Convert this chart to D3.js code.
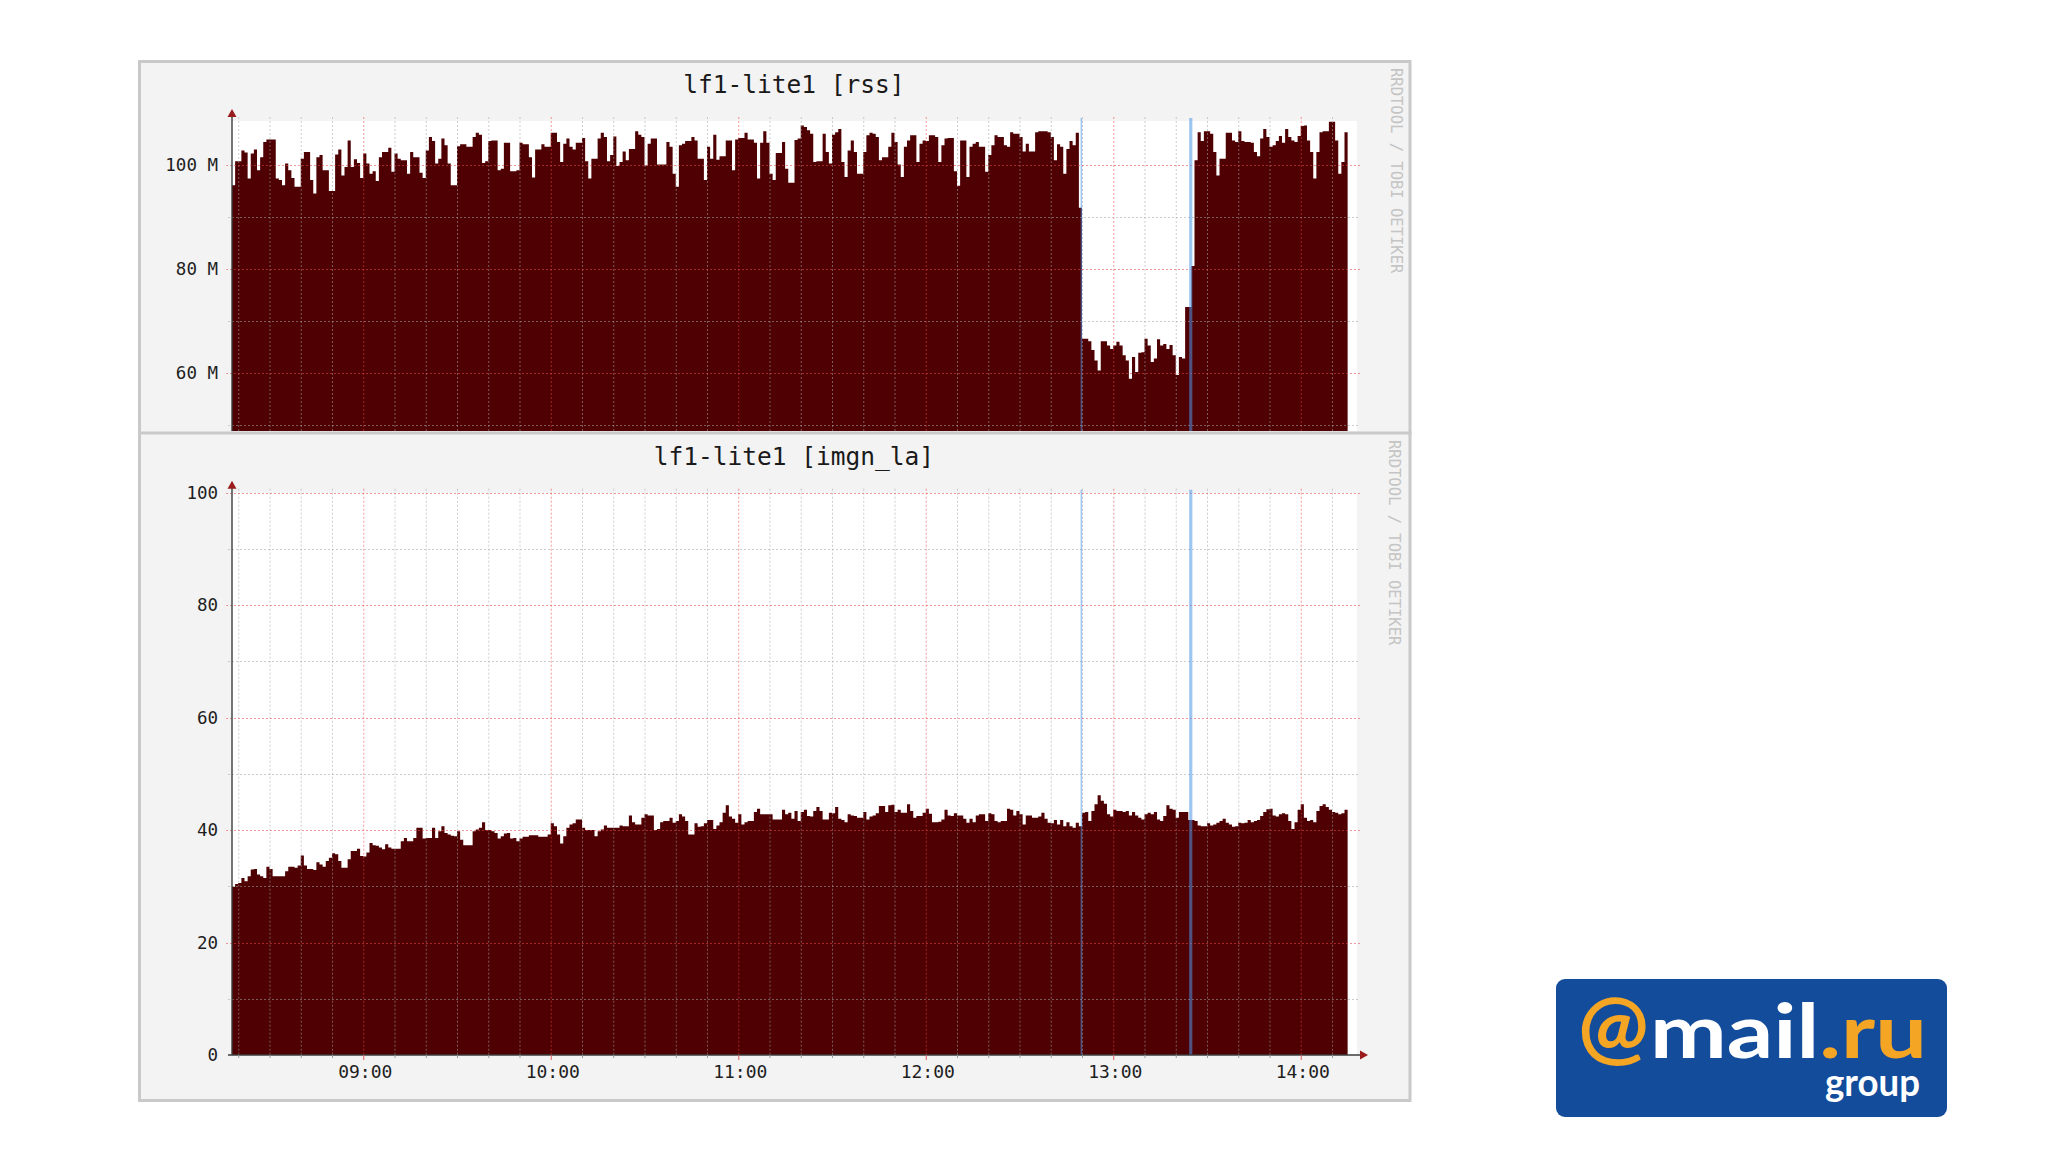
<!DOCTYPE html>
<html><head><meta charset="utf-8">
<script src="https://cdn.jsdelivr.net/npm/d3@7"></script>
<style>html,body{margin:0;padding:0;background:#fff;}svg{display:block;}</style>
</head><body>
<svg id="chart" width="2048" height="1152"></svg>
<script>
// ---------- data ----------
const startTime = "08:18:00";          // left edge of both graphs, 1-minute steps
const spanHours = 6;
const hourTicks = ["09:00","10:00","11:00","12:00","13:00","14:00"];
const vruleTimes = ["12:49:48","13:24:48"];
const titles = ["lf1-lite1 [rss]", "lf1-lite1 [imgn_la]"];
const watermark = "RRDTOOL / TOBI OETIKER";

// rss in M (per minute from 08:18)
const rssValues = [
96.1,100.7,100.7,102.8,102.4,97.4,102.2,103.0,99.0,101.5,
104.4,104.9,104.9,104.9,97.4,97.1,96.1,100.3,99.0,97.5,
95.8,95.8,101.2,102.5,102.5,97.1,94.5,101.5,101.9,99.0,
99.0,95.0,95.0,102.0,103.0,98.0,99.6,104.7,99.6,101.1,
100.4,97.5,102.2,100.3,98.3,98.8,96.9,101.5,102.5,102.5,
103.3,98.7,102.2,101.2,100.9,100.9,98.3,102.5,101.5,101.5,
98.5,97.5,102.8,105.4,104.6,100.3,101.2,105.1,103.8,100.3,
96.1,96.1,103.6,104.0,104.0,103.5,103.5,105.4,106.2,105.8,
100.4,100.7,104.6,104.7,104.7,99.0,99.3,104.3,104.3,98.8,
98.8,99.0,104.3,104.0,104.0,101.5,97.6,103.0,103.0,104.0,
103.5,103.5,106.2,106.2,104.4,100.6,104.1,105.1,103.5,103.0,
104.3,104.3,105.2,100.7,97.4,101.2,101.2,105.1,106.2,105.4,
100.7,101.9,105.5,99.8,100.6,102.6,100.9,103.1,103.1,106.5,
105.8,105.4,99.9,104.1,105.1,105.1,100.1,100.1,100.1,104.4,
103.5,98.3,95.8,103.8,104.1,104.6,104.6,105.4,104.7,101.2,
101.2,97.1,103.5,101.2,105.8,101.0,101.7,101.7,104.7,104.7,
99.0,104.9,105.2,105.2,106.2,104.9,104.9,104.3,97.4,104.3,
106.5,104.3,98.3,97.1,102.3,102.3,104.4,99.3,96.6,96.6,
104.8,105.1,107.6,107.3,106.7,106.0,100.6,100.7,100.7,106.0,
102.5,100.3,105.8,106.3,106.9,100.6,97.7,102.8,104.7,102.5,
98.3,98.3,102.5,105.7,106.2,106.0,105.4,100.9,101.5,101.5,
103.5,106.2,104.4,100.1,97.7,103.5,104.7,105.7,105.7,100.6,
104.1,104.7,104.6,105.7,105.7,105.4,100.6,103.8,105.1,105.2,
105.2,98.8,96.0,104.7,104.7,97.7,103.5,104.1,104.4,103.5,
103.5,98.7,101.9,103.8,105.7,105.4,105.4,103.8,103.5,106.3,
106.0,106.0,105.4,102.6,104.1,102.6,102.6,106.3,106.5,106.5,
106.5,106.3,105.4,100.9,104.0,103.5,98.3,103.1,104.6,103.8,
106.2,91.8,66.6,66.6,66.1,64.4,62.4,60.5,66.1,66.1,
65.3,64.6,65.3,66.0,65.3,63.4,62.4,58.9,63.1,60.2,
63.9,64.0,66.6,65.3,62.1,62.8,66.5,65.3,65.6,64.6,
65.4,63.4,59.6,63.1,62.8,72.7,72.7,80.6,100.9,106.3,
104.6,106.5,106.5,106.0,102.5,98.0,101.2,101.2,106.2,106.2,
104.7,104.4,106.5,104.6,104.4,104.4,104.3,102.5,101.7,105.1,
106.9,105.4,103.5,103.8,104.6,105.6,104.3,106.9,105.4,104.7,
104.4,105.6,107.5,107.6,104.7,102.5,97.4,102.5,106.3,106.5,
106.5,108.3,108.3,104.7,98.3,100.6,106.3
];

// imgn_la (per minute from 08:18)
const laValues = [
29.9,30.4,30.6,31.5,30.9,31.8,33.0,33.1,32.1,31.8,
31.5,33.5,33.1,31.8,31.8,31.8,31.8,32.7,33.5,33.5,
33.3,33.7,35.5,33.7,33.1,33.1,32.9,34.3,33.9,33.5,
34.5,35.1,35.9,35.7,34.5,33.3,33.3,34.8,36.3,36.3,
36.7,35.4,35.3,36.0,37.7,37.3,37.2,36.9,36.6,37.5,
36.9,36.7,36.7,36.7,38.0,38.6,38.0,38.0,38.6,40.4,
40.4,38.5,38.6,38.6,40.4,38.6,39.8,40.7,39.5,39.2,
39.0,38.9,39.8,38.3,37.3,37.3,37.3,39.8,40.1,40.4,
41.4,40.0,40.0,39.8,39.5,38.5,38.9,39.4,39.5,38.5,
38.6,38.0,38.5,38.8,38.8,39.1,39.1,39.1,38.8,38.8,
38.8,39.2,41.2,40.7,39.2,37.6,38.9,40.4,41.0,41.2,
41.9,41.9,40.4,40.0,40.0,40.0,38.9,39.8,40.1,40.8,
40.4,40.4,40.4,40.4,40.8,40.7,40.7,42.6,41.4,41.0,
41.0,42.2,42.8,42.6,42.6,40.0,40.2,41.4,41.6,41.6,
42.2,41.3,41.6,42.8,42.4,41.6,39.2,39.2,41.2,40.6,
40.7,41.2,41.8,41.8,40.2,40.8,41.4,43.1,44.4,42.4,
42.0,41.3,42.8,41.0,41.4,41.6,41.6,43.2,43.8,42.8,
42.8,42.8,42.8,41.9,41.9,41.9,43.6,42.8,43.1,42.0,
43.4,41.6,43.2,43.6,42.5,42.4,43.4,44.1,43.4,41.9,
41.9,43.1,43.0,44.1,42.0,41.8,41.4,42.8,42.6,42.5,
42.2,42.2,43.2,41.9,42.4,42.6,43.0,44.3,44.3,43.2,
44.4,44.5,43.2,43.6,43.1,43.1,44.6,43.4,42.2,42.5,
42.5,43.1,43.8,42.9,41.4,41.4,41.5,41.9,43.6,42.6,
42.5,43.0,42.6,42.6,42.0,41.3,42.0,41.4,42.6,42.8,
42.8,41.6,43.0,42.8,41.6,41.4,41.6,41.6,43.8,43.6,
42.6,43.4,42.8,41.0,42.6,42.6,42.2,42.2,42.4,43.1,
42.0,41.3,41.2,41.8,41.0,41.8,40.7,41.4,40.7,40.4,
41.3,40.7,43.1,43.2,41.6,43.4,44.6,46.2,45.2,44.7,
42.8,42.4,43.6,43.4,43.4,43.2,43.4,42.6,43.2,42.6,
42.2,41.9,42.8,43.1,42.8,43.2,41.9,41.6,42.5,44.4,
43.8,43.6,42.2,43.2,43.2,43.2,41.8,41.8,41.6,40.8,
40.7,40.7,41.2,40.8,41.0,41.3,41.6,42.0,41.3,41.0,
40.6,40.7,41.3,41.2,41.3,41.8,41.4,41.6,41.8,42.5,
43.2,43.7,43.8,42.6,42.4,42.8,43.0,42.8,41.6,40.2,
41.4,43.6,44.6,42.2,41.6,41.8,41.4,43.4,44.3,44.6,
44.1,43.6,43.2,43.1,42.8,43.0,43.6
];

const rssMajor = [60, 80, 100];
const rssMinor = [50, 70, 90];
const laMajor = [20, 40, 60, 80, 100];
const laMinor = [10, 30, 50, 70, 90];
const laLabels = [0, 20, 40, 60, 80, 100];

// ---------- drawing ----------
const svg = d3.select("#chart");
const MONO = "DejaVu Sans Mono, Liberation Mono, monospace";
const AREA = "#4e0002";
const parse = d3.timeParse("%Y-%m-%d %H:%M:%S");
const day = "2012-03-01 ";
const t0 = parse(day + startTime);
const t1 = d3.timeHour.offset(t0, spanHours);
const x = d3.scaleTime().domain([t0, t1]).range([232, 1357]);
const PL = 232, PR = 1357;

function series(vals) {
  const pts = vals.map((v, i) => ({t: d3.timeMinute.offset(t0, i), v}));
  pts.push({t: d3.timeMinute.offset(t0, vals.length), v: vals[vals.length - 1]});
  return pts;
}

function panel(cfg) {
  const g = svg.append("g");
  // frame
  g.append("rect").attr("x", cfg.fx).attr("y", cfg.fy).attr("width", cfg.fw).attr("height", cfg.fh)
    .attr("fill", "#f3f3f3").attr("stroke", "#c9c9c9").attr("stroke-width", 3);
  // canvas
  g.append("rect").attr("x", PL).attr("y", cfg.top).attr("width", PR - PL).attr("height", cfg.bottom - cfg.top)
    .attr("fill", "#ffffff");
  const clipId = "clip" + cfg.id;
  svg.append("defs").append("clipPath").attr("id", clipId).append("rect")
    .attr("x", PL).attr("y", cfg.top).attr("width", PR - PL).attr("height", cfg.bottom - cfg.top);

  const y = cfg.y;
  const area = d3.area().curve(d3.curveStepAfter)
    .x(d => x(d.t)).y0(cfg.bottom).y1(d => y(d.v));
  g.append("path").datum(series(cfg.values)).attr("d", area)
    .attr("fill", AREA).attr("clip-path", `url(#${clipId})`);

  // grid
  const minorT = x.ticks(d3.timeMinute.every(10)).filter(t => t.getMinutes() !== 0);
  const majorT = hourTicks.map(h => parse(day + h + ":00"));
  const grid = g.append("g").attr("fill", "none").attr("stroke-width", 1).attr("stroke-dasharray", "2,2");
  grid.selectAll(".vmin").data(minorT).join("line")
    .attr("x1", d => x(d) + 0.5).attr("x2", d => x(d) + 0.5)
    .attr("y1", cfg.top - 4).attr("y2", cfg.bottom)
    .attr("stroke", "rgba(165,165,165,0.55)");
  grid.selectAll(".vmaj").data(majorT).join("line")
    .attr("x1", d => x(d) + 0.5).attr("x2", d => x(d) + 0.5)
    .attr("y1", cfg.top - 4).attr("y2", cfg.bottom)
    .attr("stroke", "rgba(235,70,70,0.55)");
  grid.selectAll(".hmin").data(cfg.minor).join("line")
    .attr("x1", PL - 4).attr("x2", PR + 3)
    .attr("y1", d => Math.round(y(d)) + 0.5).attr("y2", d => Math.round(y(d)) + 0.5)
    .attr("stroke", "rgba(165,165,165,0.55)");
  grid.selectAll(".hmaj").data(cfg.major).join("line")
    .attr("x1", PL - 6).attr("x2", PR + 3)
    .attr("y1", d => Math.round(y(d)) + 0.5).attr("y2", d => Math.round(y(d)) + 0.5)
    .attr("stroke", "rgba(235,70,70,0.55)");

  // vrules
  const vr = vruleTimes.map(s => parse(day + s));
  g.selectAll(".vr").data(vr).join("line")
    .attr("x1", d => x(d)).attr("x2", d => x(d))
    .attr("y1", cfg.top - 3).attr("y2", cfg.bottom)
    .attr("stroke", "rgba(80,150,230,0.55)")
    .attr("stroke-width", (d, i) => i === 0 ? 1.5 : 3.2);

  // axes
  g.append("line").attr("x1", PL).attr("x2", PL).attr("y1", cfg.axisBottom).attr("y2", cfg.top - 10)
    .attr("stroke", "#3c3c3c").attr("stroke-width", 1.4);
  g.append("path").attr("d", `M${PL},${cfg.top - 12} L${PL - 4.5},${cfg.top - 4} L${PL + 4.5},${cfg.top - 4} Z`)
    .attr("fill", "#9a1c1c");
  if (cfg.xAxis) {
    g.append("line").attr("x1", PL - 4).attr("x2", PR + 6).attr("y1", cfg.bottom).attr("y2", cfg.bottom)
      .attr("stroke", "#3c3c3c").attr("stroke-width", 1.4);
    g.append("path").attr("d", `M${PR + 11},${cfg.bottom} L${PR + 3},${cfg.bottom - 4.5} L${PR + 3},${cfg.bottom + 4.5} Z`)
      .attr("fill", "#9a1c1c");
    g.selectAll(".tmin").data(minorT).join("line")
      .attr("x1", d => x(d) + 0.5).attr("x2", d => x(d) + 0.5)
      .attr("y1", cfg.bottom).attr("y2", cfg.bottom + 3)
      .attr("stroke", "#9a9a9a");
    g.selectAll(".tmaj").data(majorT).join("line")
      .attr("x1", d => x(d) + 0.5).attr("x2", d => x(d) + 0.5)
      .attr("y1", cfg.bottom).attr("y2", cfg.bottom + 5)
      .attr("stroke", "#e06060");
    g.selectAll(".xl").data(majorT).join("text")
      .attr("x", d => x(d) + 2).attr("y", cfg.bottom + 23)
      .attr("text-anchor", "middle").attr("font-family", MONO).attr("font-size", 18)
      .attr("fill", "#1e1e1e").text(d => d3.timeFormat("%H:%M")(d));
  }
  // y labels
  g.selectAll(".yl").data(cfg.labels).join("text")
    .attr("x", 218).attr("y", d => y(d)).attr("dy", "0.36em")
    .attr("text-anchor", "end").attr("font-family", MONO).attr("font-size", 17.5)
    .attr("fill", "#1e1e1e").text(cfg.fmt);
  // title
  g.append("text").attr("x", 794).attr("y", cfg.titleY).attr("text-anchor", "middle")
    .attr("font-family", MONO).attr("font-size", 24.5).attr("fill", "#1a1a1a").text(cfg.title);
  // watermark
  g.append("text").attr("transform", `translate(${cfg.wmX},${cfg.wmY}) rotate(90)`)
    .attr("font-family", MONO).attr("font-size", 15.5).attr("fill", "#c4c4c4").text(watermark);
}

// top panel (rss) — partially covered by the lower panel
panel({
  id: 1, fx: 139.5, fy: 61.5, fw: 1270.5, fh: 372,
  top: 121, bottom: 431, axisBottom: 431,
  y: d3.scaleLinear().domain([60, 100]).range([373, 165]),
  values: rssValues, major: rssMajor, minor: rssMinor, labels: rssMajor,
  fmt: d => d + " M", title: titles[0], titleY: 93, xAxis: false,
  wmX: 1391, wmY: 68
});

// bottom panel (imgn_la)
panel({
  id: 2, fx: 139.5, fy: 433, fw: 1270.5, fh: 667.5,
  top: 492.7, bottom: 1055, axisBottom: 1055,
  y: d3.scaleLinear().domain([0, 100]).range([1055, 492.7]),
  values: laValues, major: laMajor, minor: laMinor, labels: laLabels,
  fmt: d => String(d), title: titles[1], titleY: 464.5, xAxis: true,
  wmX: 1389, wmY: 440
});

// logo
const logo = svg.append("g");
logo.append("rect").attr("x", 1556).attr("y", 979).attr("width", 391).attr("height", 138)
  .attr("rx", 9).attr("fill", "#124c9a");
const LOGOFONT = "Lato, 'Open Sans', sans-serif";
logo.append("text").attr("x", 1578).attr("y", 1056)
  .attr("font-family", LOGOFONT).attr("font-weight", 700).attr("font-size", 84)
  .attr("fill", "#f5a524").text("@");
const lt = logo.append("text").attr("x", 1650).attr("y", 1058)
  .attr("font-family", LOGOFONT).attr("font-weight", 700)
  .attr("font-size", 74).attr("textLength", 277).attr("lengthAdjust", "spacingAndGlyphs");
lt.append("tspan").attr("fill", "#ffffff").text("mail");
lt.append("tspan").attr("fill", "#f5a524").text(".ru");
logo.append("text").attr("x", 1825).attr("y", 1096)
  .attr("font-family", LOGOFONT).attr("font-weight", 700)
  .attr("font-size", 38).attr("textLength", 95).attr("lengthAdjust", "spacingAndGlyphs")
  .attr("fill", "#ffffff").text("group");
</script>
</body></html>
